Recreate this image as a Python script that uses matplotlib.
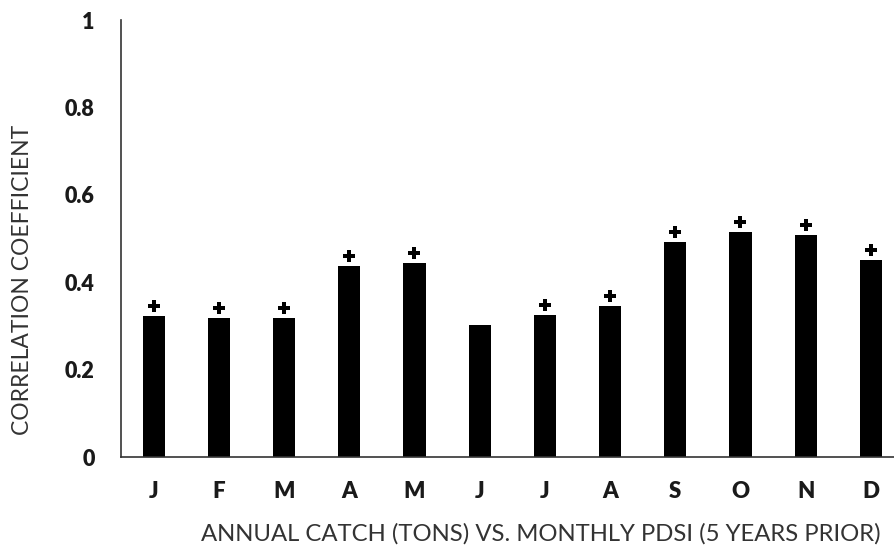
import matplotlib
matplotlib.use("Agg")
import matplotlib.pyplot as plt
import numpy as np

# Correlation of annual catch with monthly PDSI lagged five years
months = ["J", "F", "M", "A", "M", "J", "J", "A", "S", "O", "N", "D"]
correlation = [0.322, 0.318, 0.318, 0.438, 0.443, 0.302, 0.326, 0.345, 0.491, 0.515, 0.507, 0.451]
significant = [True, True, True, True, True, False, True, True, True, True, True, True]

plt.rcParams["font.family"] = ["Lato", "DejaVu Sans"]

fig = plt.figure(figsize=(8.95, 5.56), dpi=100)
ax = fig.add_axes([0.1352, 0.178, 0.8743, 0.786])

x = np.arange(len(months))
ax.bar(x, correlation, width=0.34, color="black")

# mark significant months with a plus just above the bar
sig_x = [xi for xi, s in zip(x, significant) if s]
sig_y = [c + 0.023 for c, s in zip(correlation, significant) if s]
ax.plot(sig_x, sig_y, linestyle="none", marker="P", markersize=8,
        color="black", markeredgewidth=0)

ax.set_xlim(-0.5, len(months) - 0.5)
ax.set_ylim(0, 1)
ax.set_yticks([0, 0.2, 0.4, 0.6, 0.8, 1])
ax.set_yticklabels(["0", "0.2", "0.4", "0.6", "0.8", "1"], fontsize=15.5, fontweight="heavy")
ax.set_xticks(x)
ax.set_xticklabels(months, fontsize=16, fontweight="heavy")
ax.tick_params(axis="y", length=0, pad=19, colors="#1a1a1a")
ax.tick_params(axis="x", length=0, pad=17, colors="#1a1a1a")

for side in ("top", "right"):
    ax.spines[side].set_visible(False)
for side in ("left", "bottom"):
    ax.spines[side].set_color("#333333")
    ax.spines[side].set_linewidth(1.2)

fig.text(0.604, 0.04, "ANNUAL CATCH (TONS) VS. MONTHLY PDSI (5 YEARS PRIOR)",
         ha="center", va="center", fontsize=17.2, color="#333333")
fig.text(0.025, 0.497, "CORRELATION COEFFICIENT", rotation=90,
         ha="center", va="center", fontsize=16.5, color="#333333")

fig.savefig("out.png", dpi=100)
